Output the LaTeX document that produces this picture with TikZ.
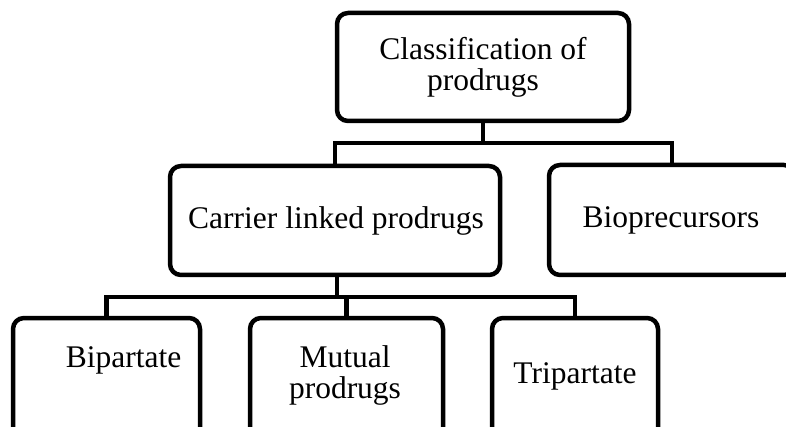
\documentclass[tikz,border=0pt]{standalone}
\usepackage{fontspec}
\setmainfont{Liberation Serif}
\begin{document}
\begin{tikzpicture}[x=1pt,y=-1pt,
  box/.style={draw=black,line width=4.5pt,rounded corners=11pt,fill=white,inner sep=0pt,outer sep=0pt},
  lbl/.style={anchor=base,inner sep=0pt,outer sep=0pt,align=center,font=\fontsize{31.5}{31}\selectfont},
  conn/.style={draw=black,line width=4.5pt}]
\useasboundingbox (0,0) rectangle (786,427);
\clip (0,0) rectangle (786,427);
% boxes
\node[box,minimum width=292pt,minimum height=108pt] (top) at (483,67) {};
\node[box,minimum width=330pt,minimum height=109pt] (carrier) at (335,220.5) {};
\node[box,minimum width=246pt,minimum height=110pt] (bio) at (672,220) {};
\node[box,minimum width=187pt,minimum height=124pt] (bip) at (106.5,380) {};
\node[box,minimum width=193pt,minimum height=124pt] (mut) at (346.5,380) {};
\node[box,minimum width=166pt,minimum height=124pt] (trip) at (575,380) {};
% labels (base = baseline of last line)
\node[lbl] (ttop) at (483,91) {Classification of\\prodrugs};
\node[lbl] (tcar) at (336,229) {Carrier linked prodrugs};
\node[lbl] (tbio) at (671,228) {Bioprecursors};
\node[lbl] (tbip) at (123.5,367) {Bipartate};
\node[lbl] (tmut) at (345,398) {Mutual\\prodrugs};
\node[lbl] (ttri) at (575,383) {Tripartate};
% connectors
\coordinate (bar1) at (483,143);
\coordinate (bar2) at (337,297);
\draw[conn] (top.south) -- (bar1);
\draw[conn] (carrier.north) |- (bar1) -| (bio.north);
\draw[conn] ([xshift=2pt]carrier.south) -- (bar2);
\draw[conn] (bip.north) |- (bar2) -| (trip.north);
\draw[conn] (mut.north) -- (mut.north |- bar2);
\end{tikzpicture}
\end{document}
